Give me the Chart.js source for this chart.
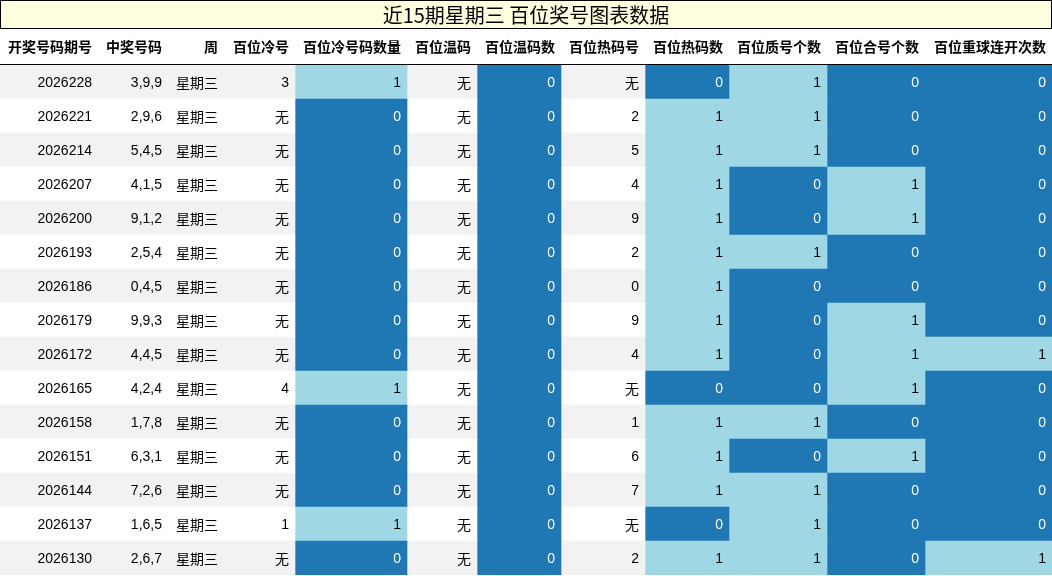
<!DOCTYPE html>
<html><head><meta charset="utf-8">
<script src="https://cdn.jsdelivr.net/npm/chart.js@4.4.1/dist/chart.umd.min.js"></script>
<style>html,body{margin:0;padding:0;background:#fff}#w{width:1052px;height:576px;position:relative}</style>
</head><body><div id="w"><canvas id="c"></canvas></div>
<script>
const title = "近15期星期三 百位奖号图表数据";
const headers = ["开奖号码期号","中奖号码","周","百位冷号","百位冷号码数量","百位温码","百位温码数","百位热码号","百位热码数","百位质号个数","百位合号个数","百位重球连开次数"];
const issues = ["2026228","2026221","2026214","2026207","2026200","2026193","2026186","2026179","2026172","2026165","2026158","2026151","2026144","2026137","2026130"];
const winNums = ["3,9,9","2,9,6","5,4,5","4,1,5","9,1,2","2,5,4","0,4,5","9,9,3","4,4,5","4,2,4","1,7,8","6,3,1","7,2,6","1,6,5","2,6,7"];
const weekday = Array(15).fill("星期三");
const cold = ["3","无","无","无","无","无","无","无","无","4","无","无","无","1","无"];
const coldCnt = [1,0,0,0,0,0,0,0,0,1,0,0,0,1,0];
const warm = Array(15).fill("无");
const warmCnt = Array(15).fill(0);
const hot = ["无","2","5","4","9","2","0","9","4","无","1","6","7","无","2"];
const hotCnt = [0,1,1,1,1,1,1,1,1,0,1,1,1,0,1];
const primeCnt = [1,1,1,0,0,1,0,0,0,0,1,0,1,1,1];
const compCnt = [0,0,0,1,1,0,0,1,1,1,0,1,0,0,0];
const repeatCnt = [0,0,0,0,0,0,0,0,1,0,0,0,0,0,1];

const columns = [issues,winNums,weekday,cold,coldCnt,warm,warmCnt,hot,hotCnt,primeCnt,compCnt,repeatCnt];
const isCount = [false,false,false,false,true,false,true,false,true,true,true,true];
const colEdges = [0,98,168,224,295,407,477,561,645,729,827,925,1052];
const DARK="#1f77b4", LIGHT="#9fd8e4";

const datasets = columns.map((col,ci)=>({
  data: col.map((_,ri)=>[colEdges[ci],colEdges[ci+1]]),
  backgroundColor: col.map((v,ri)=> isCount[ci] ? (v>0?LIGHT:DARK) : (ri%2===0?"#f2f2f2":"#ffffff")),
  borderWidth:0, barPercentage:1, categoryPercentage:1, grouped:false
}));

const tablePlugin = {
  id:'tbl',
  beforeDraw(chart){
    const ctx=chart.ctx, xs=chart.scales.x;
    ctx.save();
    ctx.fillStyle="#ffffe0"; ctx.fillRect(0,0,1052,28);
    ctx.strokeStyle="#000"; ctx.lineWidth=1;
    ctx.strokeRect(0.5,0.5,1051,28);
    ctx.fillStyle="#000"; ctx.font="20px 'Noto Sans CJK SC', sans-serif";
    ctx.textAlign="center"; ctx.textBaseline="middle";
    ctx.fillText(title,526,15);
    ctx.font="bold 14px 'Noto Sans CJK SC', sans-serif"; ctx.textAlign="right";
    headers.forEach((h,i)=>{ ctx.fillText(h, xs.getPixelForValue(colEdges[i+1])-6, 47); });
    ctx.beginPath(); ctx.moveTo(0,64.5); ctx.lineTo(1052,64.5); ctx.stroke();
    ctx.restore();
  },
  afterDatasetsDraw(chart){
    const ctx=chart.ctx;
    ctx.save(); ctx.textAlign="right"; ctx.textBaseline="middle";
    columns.forEach((col,ci)=>{
      const meta=chart.getDatasetMeta(ci);
      meta.data.forEach((el,ri)=>{
        const v=col[ri];
        const isNum = /^[0-9,]+$/.test(String(v));
        ctx.font = isNum ? "14px 'Liberation Sans', Arial, sans-serif" : "14px 'Noto Sans CJK SC', sans-serif";
        ctx.fillStyle = isCount[ci] ? (v>0?"#000":"#fff") : "#000";
        ctx.fillText(String(v), Math.max(el.x,el.base)-6, el.y+1);
      });
    });
    ctx.restore();
  }
};

new Chart(document.getElementById('c'),{
  type:'bar',
  data:{labels:issues, datasets},
  options:{
    indexAxis:'y', responsive:true, maintainAspectRatio:false, animation:false,
    layout:{padding:{top:65,bottom:1,left:0,right:0}},
    plugins:{legend:{display:false},tooltip:{enabled:false}},
    scales:{
      x:{type:'linear',min:0,max:1052,display:false},
      y:{type:'category',display:false,offset:true}
    }
  },
  plugins:[tablePlugin]
});
</script></body></html>
